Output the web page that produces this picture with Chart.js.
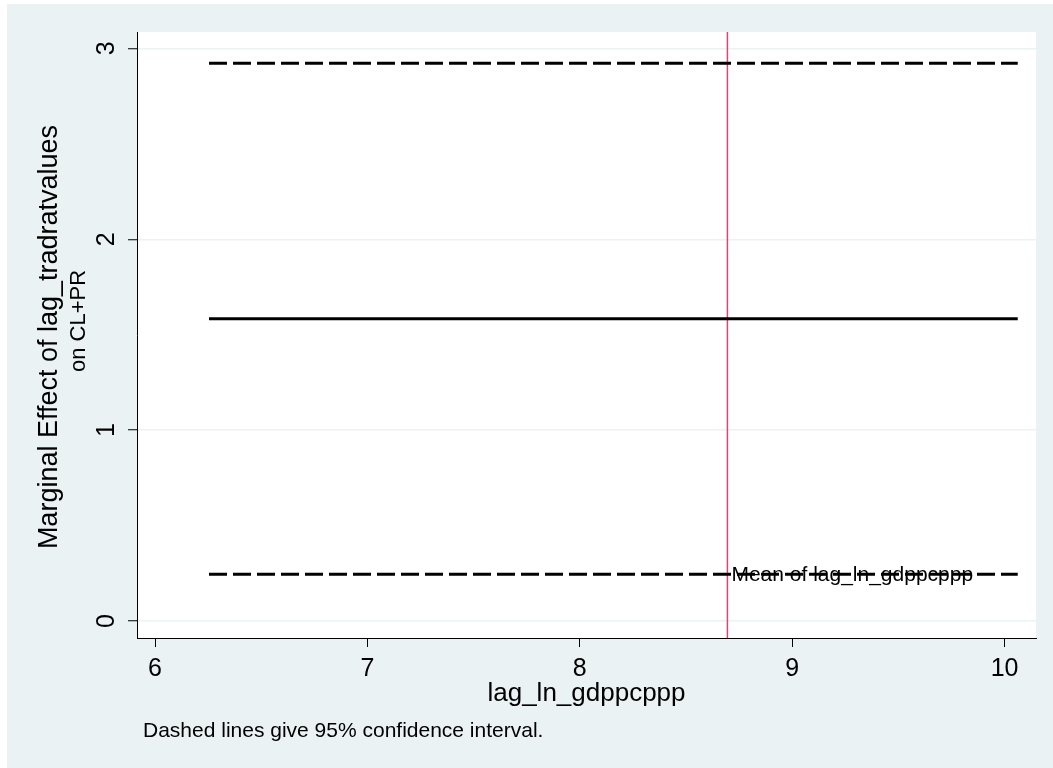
<!DOCTYPE html>
<html>
<head>
<meta charset="utf-8">
<script src="https://cdn.jsdelivr.net/npm/chart.js@4.4.0/dist/chart.umd.min.js"></script>
<style>
  html, body { margin: 0; padding: 0; background: #ffffff; }
  #wrap { width: 1053px; height: 768px; }
  canvas { display: block; }
</style>
</head>
<body>
<div id="wrap"><canvas id="c" width="1053" height="768"></canvas></div>
<script>
// ---- Data ----
const xTicks = [6, 7, 8, 9, 10];
const yTicks = [0, 1, 2, 3];
const xValues = [6.254, 10.062];          // range of lag_ln_gdppcppp covered by the lines
const marginalEffect = [1.583, 1.583];    // solid line
const upperCI = [2.922, 2.922];           // upper 95% bound (dashed)
const lowerCI = [0.245, 0.245];           // lower 95% bound (dashed)
const meanX = 8.695;                      // mean of lag_ln_gdppcppp
const xRange = [5.915, 10.148];
const yRange = [-0.089, 3.086];

const xTitle = 'lag_ln_gdppcppp';
const yTitleLines = ['Marginal Effect of lag_tradratvalues', 'on CL+PR'];
const note = 'Dashed lines give 95% confidence interval.';
const meanLabel = 'Mean of lag_ln_gdppcppp';

const FONT = "'Liberation Sans', Arial, Helvetica, sans-serif";
const BG = '#eaf2f3';

const pts = (xs, ys) => xs.map((x, i) => ({ x: x, y: ys[i] }));

const bgPlugin = {
  id: 'bgPlugin',
  beforeDraw(chart) {
    const ctx = chart.ctx, a = chart.chartArea;
    ctx.save();
    ctx.fillStyle = '#ffffff';
    ctx.fillRect(0, 0, chart.width, chart.height);
    ctx.fillStyle = BG;
    ctx.fillRect(7, 4, chart.width - 7, chart.height - 4);
    ctx.fillStyle = '#ffffff';
    ctx.fillRect(a.left, a.top, a.right - a.left, a.bottom - a.top);
    ctx.restore();
  }
};

const textPlugin = {
  id: 'textPlugin',
  afterDraw(chart) {
    const ctx = chart.ctx, ys = chart.scales.y, xs = chart.scales.x, a = chart.chartArea;
    ctx.save();
    ctx.fillStyle = '#000000';
    // rotated y tick labels
    ctx.font = '25px ' + FONT;
    ctx.textAlign = 'center';
    ctx.textBaseline = 'middle';
    yTicks.forEach(v => {
      const py = ys.getPixelForValue(v);
      ctx.save();
      ctx.translate(107, py);
      ctx.rotate(-Math.PI / 2);
      ctx.fillText(String(v), 0, 0);
      ctx.restore();
    });
    // y axis title (two lines)
    ctx.save();
    ctx.font = '27px ' + FONT;
    ctx.translate(50, 337);
    ctx.rotate(-Math.PI / 2);
    ctx.fillText(yTitleLines[0], 0, 0);
    ctx.restore();
    ctx.save();
    ctx.font = '22px ' + FONT;
    ctx.translate(79, 321);
    ctx.rotate(-Math.PI / 2);
    ctx.fillText(yTitleLines[1], 0, 0);
    ctx.restore();
    // x axis title
    ctx.font = '26px ' + FONT;
    ctx.textBaseline = 'alphabetic';
    ctx.fillText(xTitle, (a.left + a.right) / 2, 701);
    // note
    ctx.font = '21px ' + FONT;
    ctx.textAlign = 'left';
    ctx.fillText(note, 143, 737);
    // mean label
    ctx.textBaseline = 'middle';
    ctx.fillText(meanLabel, xs.getPixelForValue(meanX) + 4, ys.getPixelForValue(lowerCI[0]) + 1);
    ctx.restore();
  }
};

new Chart(document.getElementById('c'), {
  type: 'scatter',
  data: {
    datasets: [
      { label: 'Upper CI', data: pts(xValues, upperCI), showLine: true, borderColor: '#000', borderWidth: 3, borderDash: [18, 6], pointRadius: 0, order: 1 },
      { label: 'Marginal effect', data: pts(xValues, marginalEffect), showLine: true, borderColor: '#000', borderWidth: 3, pointRadius: 0, order: 1 },
      { label: 'Lower CI', data: pts(xValues, lowerCI), showLine: true, borderColor: '#000', borderWidth: 3, borderDash: [18, 6], pointRadius: 0, order: 1 },
      { label: 'Mean', data: pts([meanX, meanX], yRange), showLine: true, borderColor: '#d24a74', borderWidth: 1.5, pointRadius: 0, order: 5 }
    ]
  },
  options: {
    responsive: false,
    devicePixelRatio: 1,
    animation: false,
    events: [],
    layout: { padding: { left: 0, top: 32, right: 17, bottom: 0 } },
    plugins: { legend: { display: false }, tooltip: { enabled: false }, title: { display: false } },
    scales: {
      x: {
        type: 'linear',
        min: xRange[0], max: xRange[1],
        afterBuildTicks: s => { s.ticks = xTicks.map(v => ({ value: v })); },
        afterFit: s => { s.height = 130; },
        grid: { drawOnChartArea: false, drawTicks: true, tickLength: 9, tickColor: '#000', tickWidth: 1 },
        border: { display: true, color: '#000', width: 1 },
        ticks: { color: '#000', font: { family: FONT, size: 25 }, padding: 7, maxRotation: 0, autoSkip: false }
      },
      y: {
        type: 'linear',
        min: yRange[0], max: yRange[1],
        afterBuildTicks: s => { s.ticks = yTicks.map(v => ({ value: v })); },
        afterFit: s => { s.width = 137; },
        grid: { color: BG, lineWidth: 1.5, drawTicks: true, tickLength: 9, tickColor: '#000', tickWidth: 1 },
        border: { display: true, color: '#000', width: 1 },
        ticks: { display: false }
      }
    }
  },
  plugins: [bgPlugin, textPlugin]
});
</script>
</body>
</html>
